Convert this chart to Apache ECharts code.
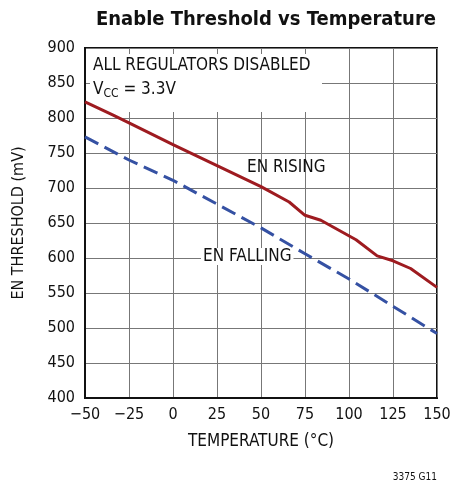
<!DOCTYPE html>
<html>
<head>
<meta charset="utf-8">
<script src="https://cdn.jsdelivr.net/npm/echarts@6/dist/echarts.min.js"></script>
<style>
  html, body { margin: 0; padding: 0; background: #fff; }
  #chart { width: 454px; height: 485px; }
</style>
</head>
<body>
<div id="chart"></div>
<script>
// values
var tempTicks = [-50, -25, 0, 25, 50, 75, 100, 125, 150];
var risingTemp = [-50, -34, -25, 0, 25, 50, 66, 75, 84, 104, 116, 125, 135, 150];
var risingMv = [823, 804, 793, 762, 732, 702, 680, 661, 654, 626, 603, 596, 585, 558];
var fallingTemp = [-50, -25, 0, 25, 50, 75, 100, 125, 150];
var fallingMv = [773, 740, 711, 677, 643, 606, 570, 531, 492];

var font = "'DejaVu Sans Condensed', 'DejaVu Sans', sans-serif";

function pairs(xs, ys) {
  return xs.map(function (x, i) { return [x, ys[i]]; });
}

var ink = "#111";
var gridColor = "#777";

var chart = echarts.init(document.getElementById("chart"));
chart.setOption({
  animation: false,
  title: {
    text: "Enable Threshold vs Temperature",
    left: 261,
    textAlign: "center",
    top: 5,
    textStyle: { fontFamily: font, fontSize: 20, fontWeight: "bold", color: ink }
  },
  grid: { left: 85, right: 17, top: 48, bottom: 87, show: true, borderColor: ink, borderWidth: 2 },
  xAxis: {
    type: "value",
    min: -50,
    max: 150,
    interval: 25,
    name: "TEMPERATURE (°C)",
    nameLocation: "middle",
    nameGap: 35,
    nameTextStyle: { fontFamily: font, fontSize: 17, color: ink },
    axisLine: { show: true, lineStyle: { color: ink, width: 2 } },
    axisTick: { show: false },
    axisLabel: {
      fontFamily: font, fontSize: 16, color: ink, margin: 9,
      formatter: function (v) { return v < 0 ? "\u2212" + (-v) : String(v); }
    },
    splitLine: { show: true, lineStyle: { color: gridColor, width: 1 } }
  },
  yAxis: {
    type: "value",
    min: 400,
    max: 900,
    interval: 50,
    name: "EN THRESHOLD (mV)",
    nameLocation: "middle",
    nameGap: 58,
    nameTextStyle: { fontFamily: font, fontSize: 16, color: ink },
    axisLine: { show: true, onZero: false, lineStyle: { color: ink, width: 2 } },
    axisTick: { show: false },
    axisLabel: { fontFamily: font, fontSize: 16, color: ink, margin: 10 },
    splitLine: { show: true, lineStyle: { color: gridColor, width: 1 } }
  },
  series: [
    {
      name: "EN RISING",
      type: "line",
      data: pairs(risingTemp, risingMv),
      showSymbol: false,
      lineStyle: { color: "#9e1b20", width: 3 },
      z: 4
    },
    {
      name: "EN FALLING",
      type: "line",
      data: pairs(fallingTemp, fallingMv),
      showSymbol: false,
      lineStyle: { color: "#3551a3", width: 3, type: [15, 7] },
      z: 4
    }
  ],
  graphic: [
    {
      // white box behind the condition note; grid stubs left showing at the edges
      type: "rect",
      shape: { x: 90, y: 54, width: 232, height: 58 },
      style: { fill: "#fff" },
      z: 1
    },
    {
      type: "text",
      left: 93, top: 57, z: 5,
      style: { text: "ALL REGULATORS DISABLED", font: "17px " + font, fill: ink }
    },
    {
      type: "text",
      left: 93, top: 79, z: 5,
      style: {
        text: "{n|V}{s|CC}{n| = 3.3V}",
        rich: {
          n: { font: "17px " + font, fill: ink, lineHeight: 20 },
          s: { font: "12px " + font, fill: ink, padding: [9, 0, 0, 0], lineHeight: 20 }
        }
      }
    },
    {
      type: "text",
      left: 247, top: 159, z: 5,
      style: { text: "EN RISING", font: "17px " + font, fill: ink }
    },
    {
      type: "text",
      left: 201, top: 248, z: 5,
      style: {
        text: "EN FALLING", font: "17px " + font, fill: ink,
        backgroundColor: "#fff", padding: [0, 2]
      }
    },
    {
      type: "text",
      right: 17, top: 472, z: 5,
      style: { text: "3375 G11", font: "10px " + font, fill: ink }
    }
  ]
});
</script>
</body>
</html>
